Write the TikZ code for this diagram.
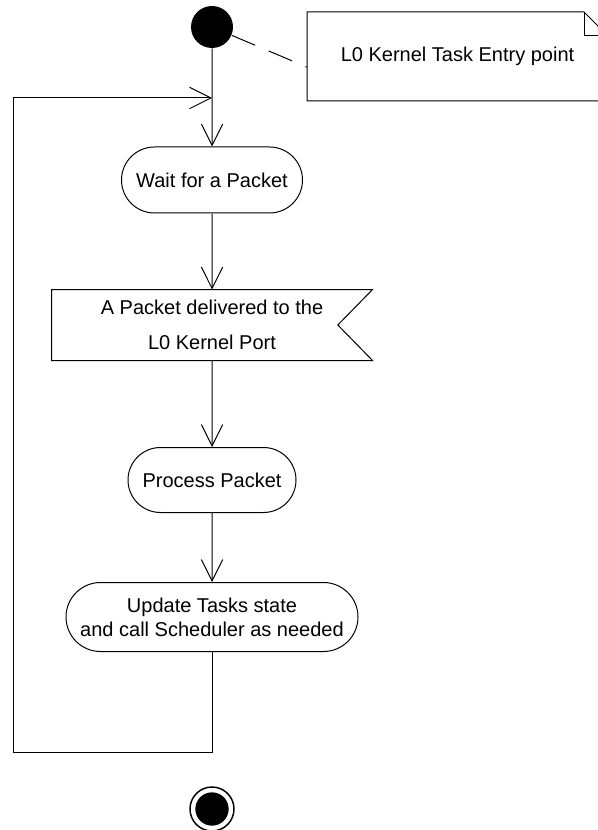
\documentclass[tikz,border=0pt]{standalone}
\usepackage{fontspec}
\setmainfont{Liberation Sans}
\usetikzlibrary{arrows.meta,shapes.misc}

\begin{document}
\begin{tikzpicture}[x=0.75pt, y=-0.75pt, line width=0.75pt,
        font=\fontsize{15}{18}\selectfont,
        flow/.style={-{Straight Barb[length=16pt,width=16pt,line width=0.75pt]}},
        action/.style={draw, rounded rectangle, inner sep=0pt, align=center},
        initial/.style={circle, fill=black, minimum size=31.5pt, inner sep=0pt}]
        \useasboundingbox (0,0) rectangle (597,830);

        % start and note
        \node[initial] (start) at (212,27) {};
        \node[anchor=north west, minimum width=225pt, minimum height=66pt, inner sep=0pt] (note) at (307,12) {L0 Kernel Task Entry point};
        \draw (note.north west) -- ([xshift=-18pt]note.north east) -- ([yshift=-18pt]note.north east)
            -- (note.south east) -- (note.south west) -- cycle;
        \draw ([xshift=-18pt]note.north east) |- ([yshift=-18pt]note.north east);
        \draw[dash pattern=on 19pt off 11pt] (start) -- ([yshift=-8pt]note.west);

        % actions
        \node[action, minimum width=135.75pt, minimum height=49.5pt] (wait) at (212,180) {Wait for a Packet};
        \node[inner sep=0pt, minimum width=240pt, minimum height=52.5pt, align=center] (packet) at (212,325)
            {A Packet delivered to the\\[8pt]L0 Kernel Port};
        \draw (packet.north west) -- (packet.north east) -- ([xshift=-26pt]packet.east)
            -- (packet.south east) -- (packet.south west) -- cycle;
        \node[action, minimum width=126pt, minimum height=48.75pt] (process) at (212,480) {Process Packet};
        \node[action, minimum width=219pt, minimum height=51.75pt] (update) at (212,617)
            {Update Tasks state\\and call Scheduler as needed};

        % final
        \node[circle, draw, minimum size=33pt, inner sep=0pt, line width=1.1pt,
            path picture={\fill (path picture bounding box.center) circle (12.5pt);}] (final) at (212,809) {};

        % flows
        \coordinate (join) at (212,98);
        \coordinate (corner) at (13,752);
        \draw[flow] (start) -- (wait);
        \draw[flow] (wait) -- (packet);
        \draw[flow] (packet) -- (process);
        \draw[flow] (process) -- (update);
        \draw[flow] (update.south) |- (corner) |- (join);
    \end{tikzpicture}
\end{document}
